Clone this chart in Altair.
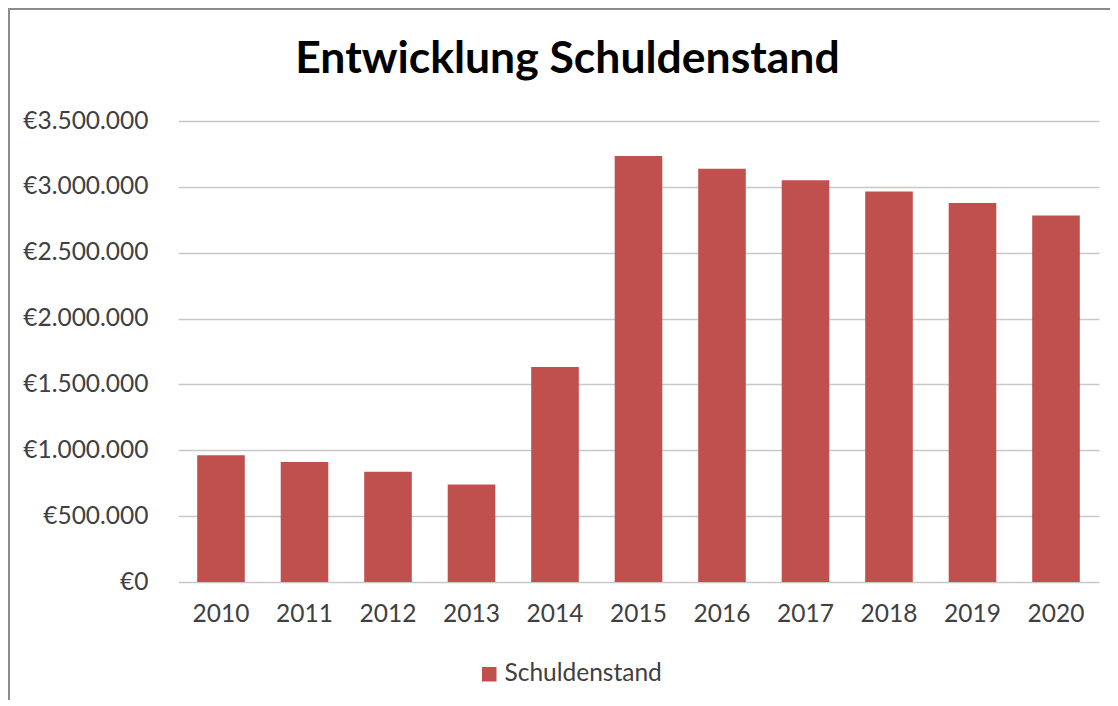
import altair as alt
import pandas as pd

years = ["2010", "2011", "2012", "2013", "2014", "2015", "2016", "2017", "2018", "2019", "2020"]
debt = [963000, 912000, 837000, 740000, 1632000, 3235000, 3138000, 3050000, 2965000, 2877000, 2782000]
series_name = "Schuldenstand"
title_text = "Entwicklung Schuldenstand"

df = pd.DataFrame({"Jahr": years, "Wert": debt, "Serie": [series_name] * len(years)})

FONT = "Lato"
LS = 24.5

bars = alt.Chart(df).mark_bar(color="#C0504D").encode(
    x=alt.X("Jahr:N", sort=years,
            scale=alt.Scale(paddingInner=0.43, paddingOuter=0.23),
            axis=alt.Axis(title=None, labelAngle=0, tickSize=0, domain=False,
                          labelPadding=20, labelFontSize=LS, labelColor="#404040",
                          labelFont=FONT)),
    y=alt.Y("Wert:Q", scale=alt.Scale(domain=[0, 3500000], nice=False),
            axis=alt.Axis(title=None, values=[0, 500000, 1000000, 1500000, 2000000, 2500000, 3000000, 3500000],
                          format="$,.0f", tickSize=0, domain=False, labelPadding=30,
                          labelFontSize=LS, labelColor="#404040", labelFont=FONT,
                          gridColor="#c8c8c8", gridWidth=1.5)),
    color=alt.Color("Serie:N", scale=alt.Scale(range=["#C0504D"]),
                    legend=alt.Legend(title=None, orient="none", legendX=299, legendY=541,
                                      symbolType="square", symbolSize=210, labelFontSize=LS,
                                      labelColor="#404040", labelFont=FONT, labelOffset=3)),
)

frame_top = alt.Chart(df).mark_rule(color="#8c8c8c", strokeWidth=2).encode(
    x=alt.value(-170), x2=alt.value(940), y=alt.value(-112)
)
frame_left = alt.Chart(df).mark_rule(color="#8c8c8c", strokeWidth=2).encode(
    x=alt.value(-169), y=alt.value(-113), y2=alt.value(600)
)

chart = alt.layer(bars, frame_top, frame_left).properties(
    width=921, height=461,
    autosize=alt.AutoSizeParams(type="none"),
    padding={"left": 170, "top": 113, "right": 11, "bottom": 118},
    title=alt.TitleParams(title_text, fontSize=44.5, font=FONT, fontWeight="bold",
                          color="#000000", anchor="middle", offset=-75, dx=-71),
).configure(
    locale={"number": {"decimal": ",", "thousands": ".", "grouping": [3], "currency": ["€", ""]}}
).configure_view(stroke=None)

chart.save("out.html", embed_options={"renderer": "svg", "actions": False})
